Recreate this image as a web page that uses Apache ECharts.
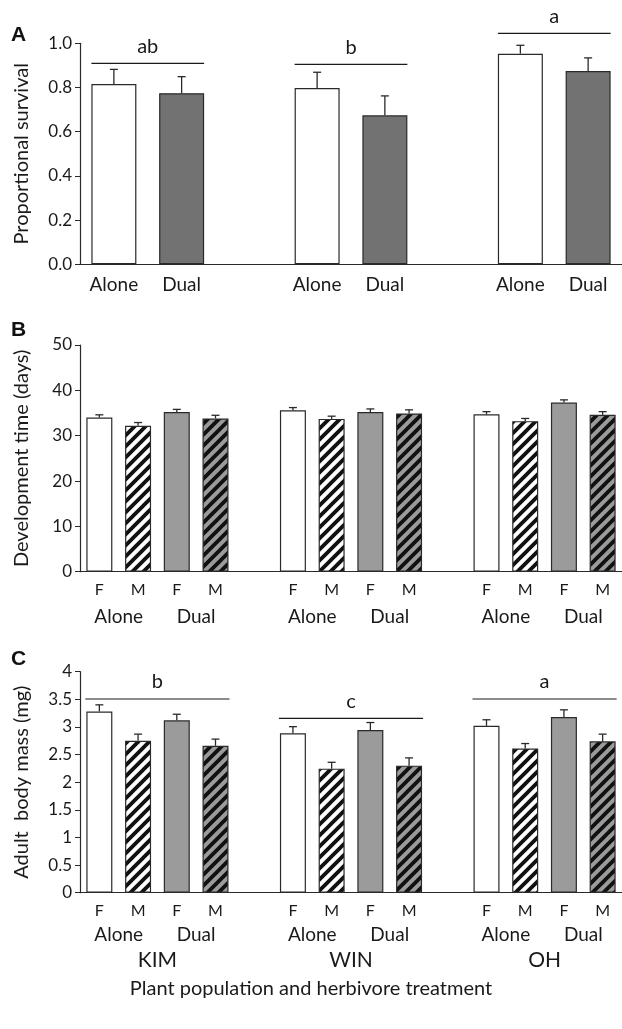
<!DOCTYPE html>
<html>
<head>
<meta charset="utf-8">
<script src="https://cdn.jsdelivr.net/npm/echarts@6/dist/echarts.min.js"></script>
<style>
html,body{margin:0;padding:0;background:#fff;}
#chart{width:622px;height:1029px;}
</style>
</head>
<body>
<div id="chart"></div>
<script>
// ---------- data ----------
const populations = ['KIM', 'WIN', 'OH'];
const treatments = ['Alone', 'Dual'];
const sexes = ['F', 'M'];

// Panel A: proportional survival (KIM Alone, KIM Dual, WIN Alone, WIN Dual, OH Alone, OH Dual)
const survivalMean = [0.816, 0.774, 0.798, 0.674, 0.953, 0.875];
const survivalSE   = [0.066, 0.075, 0.071, 0.088, 0.038, 0.059];
const survivalLetters = ['ab', 'b', 'a'];
const survivalLetterHeight = [0.909, 0.905, 1.045];
const survivalTicks = [0, 0.2, 0.4, 0.6, 0.8, 1.0];

// Panel B: development time (days) — per population: Alone F, Alone M, Dual F, Dual M
const devMean = [34.0, 32.2, 35.2, 33.8,  35.6, 33.7, 35.2, 34.9,  34.7, 33.2, 37.3, 34.6];
const devSE   = [0.6, 0.7, 0.6, 0.7,  0.6, 0.6, 0.7, 0.8,  0.6, 0.6, 0.6, 0.7];
const devTicks = [0, 10, 20, 30, 40, 50];

// Panel C: adult body mass (mg)
const massMean = [3.28, 2.75, 3.12, 2.66,  2.885, 2.245, 2.945, 2.30,  3.02, 2.61, 3.18, 2.74];
const massSE   = [0.12, 0.12, 0.11, 0.12,  0.12, 0.115, 0.135, 0.14,  0.11, 0.09, 0.13, 0.13];
const massLetters = ['b', 'c', 'a'];
const massLetterHeight = [3.506, 3.156, 3.506];
const massTicks = [0, 0.5, 1, 1.5, 2, 2.5, 3, 3.5, 4];

// ---------- styling ----------
const FONT = 'Lato, "Open Sans", sans-serif';
const TXT = '#1a1a1a';
const AX = '#2a2a2a';
const WHITE = '#ffffff';
const DARK = '#727272';
const GRAY = '#9b9b9b';
const LETTER_FONT = 'bold 21px Arial, "Liberation Sans", sans-serif';

function hatch(bg) {
  const s = 11;
  const c = document.createElement('canvas');
  c.width = s; c.height = s;
  const g = c.getContext('2d');
  g.fillStyle = bg; g.fillRect(0, 0, s, s);
  g.strokeStyle = '#111'; g.lineWidth = 3.8;
  g.beginPath();
  g.moveTo(-1, s + 1); g.lineTo(s + 1, -1);
  g.moveTo(-s / 2 - 1, s / 2 + 1); g.lineTo(s / 2 + 1, -s / 2 - 1);
  g.moveTo(s / 2 - 1, s * 1.5 + 1); g.lineTo(s * 1.5 + 1, s / 2 - 1);
  g.stroke();
  return { image: c, repeat: 'repeat' };
}
const HATCH_W = hatch(WHITE);
const HATCH_G = hatch(GRAY);

// ---------- category layouts ----------
const catsA = [];
populations.forEach((p, g) => {
  treatments.forEach(t => catsA.push(t));
  if (g < populations.length - 1) catsA.push('');
});
const catsBC = [];
populations.forEach((p, g) => {
  treatments.forEach(() => sexes.forEach(s => catsBC.push(s)));
  if (g < populations.length - 1) catsBC.push('');
});

function slotA(g, t) { return g * 3 + t; }
function slotBC(g, i) { return g * 5 + i; }

const fillsA = [WHITE, DARK];
const fillsBC = [WHITE, HATCH_W, GRAY, HATCH_G];

function barDataA() {
  const d = catsA.map(() => '-');
  survivalMean.forEach((v, k) => {
    const g = Math.floor(k / 2), t = k % 2;
    d[slotA(g, t)] = { value: v, itemStyle: { color: fillsA[t] } };
  });
  return d;
}
function barDataBC(mean) {
  const d = catsBC.map(() => '-');
  mean.forEach((v, k) => {
    const g = Math.floor(k / 4), i = k % 4;
    d[slotBC(g, i)] = { value: v, itemStyle: { color: fillsBC[i] } };
  });
  return d;
}
function errDataA() {
  return survivalMean.map((v, k) => [slotA(Math.floor(k / 2), k % 2), v, survivalSE[k]]);
}
function errDataBC(mean, se) {
  return mean.map((v, k) => [slotBC(Math.floor(k / 4), k % 4), v, se[k]]);
}

function errRender(cap) {
  return function (params, api) {
    const x = api.value(0), v = api.value(1), e = api.value(2);
    const p0 = api.coord([x, v]);
    const p1 = api.coord([x, v + e]);
    const st = { stroke: '#2a2a2a', lineWidth: 1.3 };
    return {
      type: 'group',
      children: [
        { type: 'line', shape: { x1: p0[0], y1: p0[1], x2: p1[0], y2: p1[1] }, style: st },
        { type: 'line', shape: { x1: p1[0] - cap, y1: p1[1], x2: p1[0] + cap, y2: p1[1] }, style: st }
      ]
    };
  };
}

function sigRender(letters, halfBar) {
  return function (params, api) {
    const a = api.value(0), b = api.value(1), h = api.value(2);
    const pa = api.coord([a, h]);
    const pb = api.coord([b, h]);
    const x1 = pa[0] - halfBar, x2 = pb[0] + halfBar;
    return {
      type: 'group',
      children: [
        { type: 'line', shape: { x1: x1, y1: pa[1], x2: x2, y2: pa[1] }, style: { stroke: '#1a1a1a', lineWidth: 1.2 } },
        { type: 'text', x: (x1 + x2) / 2, y: pa[1] - 17,
          style: { text: letters[params.dataIndex], fill: TXT, font: '20px ' + FONT, align: 'center', verticalAlign: 'middle' } }
      ]
    };
  };
}

function sigData(nPerGroup, slotFn, heights) {
  return heights.map((h, g) => [slotFn(g, 0), slotFn(g, nPerGroup - 1), h]);
}

function groupLabelRender(texts, offset, fontSize) {
  return function (params, api) {
    const a = api.value(0), b = api.value(1);
    const pa = api.coord([a, 0]);
    const pb = api.coord([b, 0]);
    return {
      type: 'text', x: (pa[0] + pb[0]) / 2, y: pa[1] + offset,
      style: { text: texts[params.dataIndex], fill: TXT, font: fontSize + 'px ' + FONT, align: 'center', verticalAlign: 'middle' }
    };
  };
}

const treatLabelData = [], treatLabelText = [];
populations.forEach((p, g) => {
  treatments.forEach((t, ti) => {
    treatLabelData.push([slotBC(g, ti * 2), slotBC(g, ti * 2 + 1)]);
    treatLabelText.push(t);
  });
});
const popLabelData = populations.map((p, g) => [slotBC(g, 0), slotBC(g, 3)]);

// ---------- axes ----------
const gridLeft = 80, gridWidth = 545;
const grids = [
  { left: gridLeft, width: gridWidth, top: 43.3, height: 221 },
  { left: gridLeft, width: gridWidth, top: 345, height: 226.7 },
  { left: gridLeft, width: gridWidth, top: 671.7, height: 221 }
];

function xAxisCfg(gi, cats, fontSize, margin) {
  return {
    type: 'category', gridIndex: gi, data: cats,
    axisLine: { lineStyle: { color: AX, width: 1.2 } },
    axisTick: { show: false },
    axisLabel: { interval: 0, color: TXT, fontFamily: FONT, fontSize: fontSize, margin: margin },
    splitLine: { show: false }
  };
}
function yAxisCfg(gi, ticks, name, fmt) {
  return {
    type: 'value', gridIndex: gi, min: ticks[0], max: ticks[ticks.length - 1],
    interval: ticks[1] - ticks[0],
    name: name, nameLocation: 'middle', nameGap: 48,
    nameTextStyle: { color: TXT, fontFamily: FONT, fontSize: 20 },
    axisLine: { show: true, lineStyle: { color: AX, width: 1.2 } },
    axisTick: { show: true, length: 5, lineStyle: { color: AX } },
    axisLabel: { color: TXT, fontFamily: FONT, fontSize: 17, margin: 8, formatter: fmt },
    splitLine: { show: false }
  };
}

const option = {
  backgroundColor: '#fff',
  animation: false,
  grid: grids,
  xAxis: [
    xAxisCfg(0, catsA, 19, 11),
    xAxisCfg(1, catsBC, 16, 10),
    xAxisCfg(2, catsBC, 16, 10)
  ],
  yAxis: [
    yAxisCfg(0, survivalTicks, 'Proportional survival', v => v.toFixed(1)),
    yAxisCfg(1, devTicks, 'Development time (days)', v => String(v)),
    yAxisCfg(2, massTicks, 'Adult  body mass (mg)', v => String(v))
  ],
  graphic: [
    { type: 'text', left: 11, top: 25, style: { text: 'A', font: LETTER_FONT, fill: '#111' } },
    { type: 'text', left: 11, top: 320, style: { text: 'B', font: LETTER_FONT, fill: '#111' } },
    { type: 'text', left: 11, top: 649, style: { text: 'C', font: LETTER_FONT, fill: '#111' } },
    { type: 'text', left: 'center', top: 979, style: { text: 'Plant population and herbivore treatment', font: '20px ' + FONT, fill: TXT } }
  ],
  series: [
    // Panel A
    { type: 'bar', xAxisIndex: 0, yAxisIndex: 0, barWidth: 45, data: barDataA(),
      itemStyle: { borderColor: '#2a2a2a', borderWidth: 1.2 } },
    { type: 'custom', xAxisIndex: 0, yAxisIndex: 0, clip: false, z: 5, renderItem: errRender(4), data: errDataA() },
    { type: 'custom', xAxisIndex: 0, yAxisIndex: 0, clip: false, z: 5,
      renderItem: sigRender(survivalLetters, 22.5), data: sigData(2, slotA, survivalLetterHeight) },
    // Panel B
    { type: 'bar', xAxisIndex: 1, yAxisIndex: 1, barWidth: 26, data: barDataBC(devMean),
      itemStyle: { borderColor: '#2a2a2a', borderWidth: 1.2 } },
    { type: 'custom', xAxisIndex: 1, yAxisIndex: 1, clip: false, z: 5, renderItem: errRender(4), data: errDataBC(devMean, devSE) },
    { type: 'custom', xAxisIndex: 1, yAxisIndex: 1, clip: false, z: 5,
      renderItem: groupLabelRender(treatLabelText, 45, 19), data: treatLabelData },
    // Panel C
    { type: 'bar', xAxisIndex: 2, yAxisIndex: 2, barWidth: 26, data: barDataBC(massMean),
      itemStyle: { borderColor: '#2a2a2a', borderWidth: 1.2 } },
    { type: 'custom', xAxisIndex: 2, yAxisIndex: 2, clip: false, z: 5, renderItem: errRender(4), data: errDataBC(massMean, massSE) },
    { type: 'custom', xAxisIndex: 2, yAxisIndex: 2, clip: false, z: 5,
      renderItem: sigRender(massLetters, 14), data: sigData(4, slotBC, massLetterHeight) },
    { type: 'custom', xAxisIndex: 2, yAxisIndex: 2, clip: false, z: 5,
      renderItem: groupLabelRender(treatLabelText, 42, 19), data: treatLabelData },
    { type: 'custom', xAxisIndex: 2, yAxisIndex: 2, clip: false, z: 5,
      renderItem: groupLabelRender(populations, 68, 21), data: popLabelData }
  ]
};

const chart = echarts.init(document.getElementById('chart'), null, { renderer: 'canvas' });
chart.setOption(option);
</script>
</body>
</html>
